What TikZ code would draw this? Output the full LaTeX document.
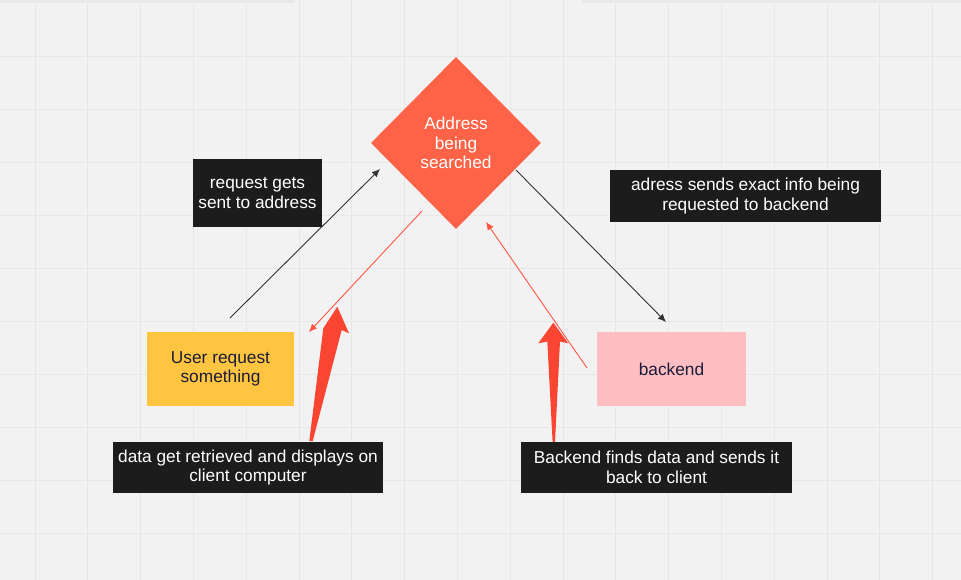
\documentclass[tikz,border=0pt]{standalone}
\usepackage{fontspec}
\setmainfont{Liberation Sans}
\usetikzlibrary{shapes.geometric,arrows.meta}
\definecolor{bgc}{HTML}{F2F2F2}
\definecolor{gridc}{HTML}{E7E7E7}
\definecolor{shadowc}{HTML}{E9E9EB}
\definecolor{darkbox}{HTML}{1C1C1C}
\definecolor{tomatoc}{HTML}{FF6347}
\definecolor{yellowc}{HTML}{FFC540}
\definecolor{pinkc}{HTML}{FFBEC1}
\definecolor{navyc}{HTML}{1B1B3A}
\definecolor{bigred}{HTML}{FA4533}
\definecolor{thinred}{HTML}{FF5544}
\definecolor{linec}{HTML}{333333}
\tikzset{
  txt/.style={font=\fontsize{17.3}{19.5}\selectfont, align=center},
  notebox/.style={txt, fill=darkbox, text=white, inner sep=0pt, draw=none},
  stickybox/.style={txt, inner sep=0pt, text=navyc},
  thinblack/.style={draw=linec, line width=0.9pt, -{Latex[length=8pt,width=7pt]}},
  thinred/.style={draw=thinred, line width=0.9pt, -{Latex[length=8pt,width=7pt]}},
  bigarrow/.style={fill=bigred, draw=none}
}
\begin{document}
\begin{tikzpicture}[x=1pt,y=-1pt]
\useasboundingbox (0,0) rectangle (961,580);
\fill[bgc] (0,0) rectangle (961,580);
% grid
\foreach \i in {0,...,18} {\draw[gridc, line width=0.9pt] ({35+52.8*\i},0) -- ({35+52.8*\i},580);}
\foreach \j in {0,...,9} {\draw[gridc, line width=0.9pt] (0,{56+53*\j}) -- (961,{56+53*\j});}
% top shadow
\fill[shadowc] (0,0) rectangle (295,3);
\fill[shadowc] (582,0) rectangle (961,3);

% diamond
\node[diamond, fill=tomatoc, inner sep=0pt, minimum width=170pt, minimum height=172pt, txt, text=white] (addr) at (456,143) {Address\\being\\searched};

% sticky notes
\node[stickybox, fill=yellowc, minimum width=147pt, minimum height=74pt] (user) at (220.5,369) {User request\\something};
\node[stickybox, fill=pinkc, minimum width=149pt, minimum height=74pt] (backend) at (671.5,369) {backend};

% coordinates for connector ends
\coordinate (u1) at (230,318);
\coordinate (a1) at (380,169);
\coordinate (a2) at (516,170);
\coordinate (b1) at (666,322);
\coordinate (a3) at (422,211);
\coordinate (u2) at (309,332);
\coordinate (b2) at (587,368);
\coordinate (a4) at (486,222);

% big tapered arrows
\coordinate (t1) at (337.3,306.7);
\coordinate (t2) at (553.3,322.7);
\fill[bigarrow] (309.3,441) -- (323.3,328.3) -- (t1) -- (349,333.3) -- (341.7,330) -- (312.7,441) -- cycle;
\fill[bigarrow] (552.6,442) -- (547.3,341.5) -- (538.3,343.3) -- (t2) -- (568.3,343.3) -- (560,341.5) -- (555,442) -- cycle;

% thin connectors
\draw[thinblack] (u1) -- (a1);
\draw[thinblack] (a2) -- (b1);
\draw[thinred] (a3) -- (u2);
\draw[thinred] (b2) -- (a4);

% note boxes
\node[notebox, minimum width=129pt, minimum height=68pt] (n1) at (257.5,193) {request gets\\sent to address};
\node[notebox, minimum width=271pt, minimum height=52pt] (n2) at (745.5,196) {adress sends exact info being\\requested to backend};
\node[notebox, minimum width=270pt, minimum height=51pt] (n3) at (248,467.5) {data get retrieved and displays on\\client computer};
\node[notebox, minimum width=271pt, minimum height=51pt] (n4) at (656.5,467.5) {Backend finds data and sends it\\back to client};
\end{tikzpicture}
\end{document}
